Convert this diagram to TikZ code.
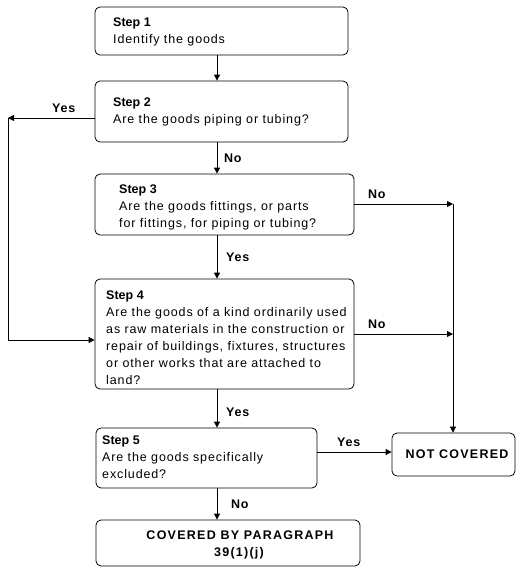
\documentclass[tikz,border=0pt]{standalone}
\usepackage{fontspec}
\setmainfont{Liberation Sans}
\newfontfamily\regfont[LetterSpace=7]{Liberation Sans}
\newfontfamily\capfont[LetterSpace=10]{Liberation Sans}
\newfontfamily\lblfont[LetterSpace=6]{Liberation Sans}
\usetikzlibrary{arrows.meta}
\tikzset{
  box/.style={draw, rounded corners=5pt, line width=0.8pt, inner sep=0pt},
  txt/.style={anchor=base west, inner sep=0pt, align=left, font=\regfont\fontsize{12.5}{17}\selectfont},
  captxt/.style={inner sep=0pt, align=center, font=\capfont\bfseries\fontsize{12.5}{17}\selectfont},
  lbl/.style={anchor=base west, inner sep=0pt, font=\lblfont\bfseries\fontsize{12.5}{15}\selectfont},
  arr/.style={line width=0.8pt, -{Triangle[length=6pt,width=6pt]}},
  ln/.style={line width=0.8pt}
}
\newcommand{\stp}[1]{{\normalfont\bfseries #1}}
\begin{document}
\begin{tikzpicture}[x=1pt,y=-1pt]
\useasboundingbox (0,0) rectangle (522,571);
% boxes
\node[box, minimum width=253pt, minimum height=48pt] (s1) at (221.5,31) {};
\node[box, minimum width=253pt, minimum height=61pt] (s2) at (221.5,111.5) {};
\node[box, minimum width=259pt, minimum height=61pt] (s3) at (224.5,204.5) {};
\node[box, minimum width=259pt, minimum height=110pt] (s4) at (224.5,334) {};
\node[box, minimum width=221pt, minimum height=60pt] (s5) at (206.5,458) {};
\node[box, minimum width=123pt, minimum height=43pt] (nc) at (453.5,454.5) {};
\node[box, minimum width=264pt, minimum height=46pt] (cov) at (228,543) {};
% texts (anchor = baseline of the last line)
\node[txt] (t1) at (113,43) {\stp{Step 1}\\Identify the goods};
\node[txt] (t2) at (113,123) {\stp{Step 2}\\Are the goods piping or tubing?};
\node[txt] (t3) at (119,227) {\stp{Step 3}\\Are the goods fittings, or parts\\for fittings, for piping or tubing?};
\node[txt] (t4) at (106,384) {\stp{Step 4}\\Are the goods of a kind ordinarily used\\as raw materials in the construction or\\repair of buildings, fixtures, structures\\or other works that are attached to\\land?};
\node[txt] (t5) at (102,478) {\stp{Step 5}\\Are the goods specifically\\excluded?};
\node[captxt, anchor=base] (tnc) at (457,458) {NOT COVERED};
\node[captxt, anchor=base] (tcov1) at (240,539) {COVERED BY PARAGRAPH};
\node[captxt, anchor=base] (tcov2) at (239,556) {39(1)(j)};
% coordinates
\coordinate (cx) at (217,0);
\coordinate (l1) at (8,118);
\coordinate (l2) at (8,340);
\coordinate (r1) at (453,204);
\coordinate (r2) at (453,334);
\coordinate (y5) at (0,452);
% connectors
\draw[arr] (s1.south -| cx) -- (s2.north -| cx);
\draw[arr] (s2.south -| cx) -- (s3.north -| cx);
\draw[arr] (s3.south -| cx) -- (s4.north -| cx);
\draw[arr] (s4.south -| cx) -- (s5.north -| cx);
\draw[arr] (s5.south -| cx) -- (cov.north -| cx);
\draw[arr] (s2.west |- l1) -- (l1);
\draw[arr] (l1) -- (l2) -- (s4.west |- l2);
\draw[arr] (s3.east |- r1) -- (r1);
\draw[arr] (s4.east |- r2) -- (r2);
\draw[arr] (r1) -- (nc.north -| r1);
\draw[arr] (s5.east |- y5) -- (nc.west |- y5);
% labels
\node[lbl] (y1) at (52,112) {Yes};
\node[lbl] (n1) at (224,162) {No};
\node[lbl] (n2) at (368,198) {No};
\node[lbl] (y2) at (226,261) {Yes};
\node[lbl] (n3) at (368,328) {No};
\node[lbl] (y3) at (226,416) {Yes};
\node[lbl] (y4) at (337,446) {Yes};
\node[lbl] (n4) at (231,508) {No};
\end{tikzpicture}
\end{document}
